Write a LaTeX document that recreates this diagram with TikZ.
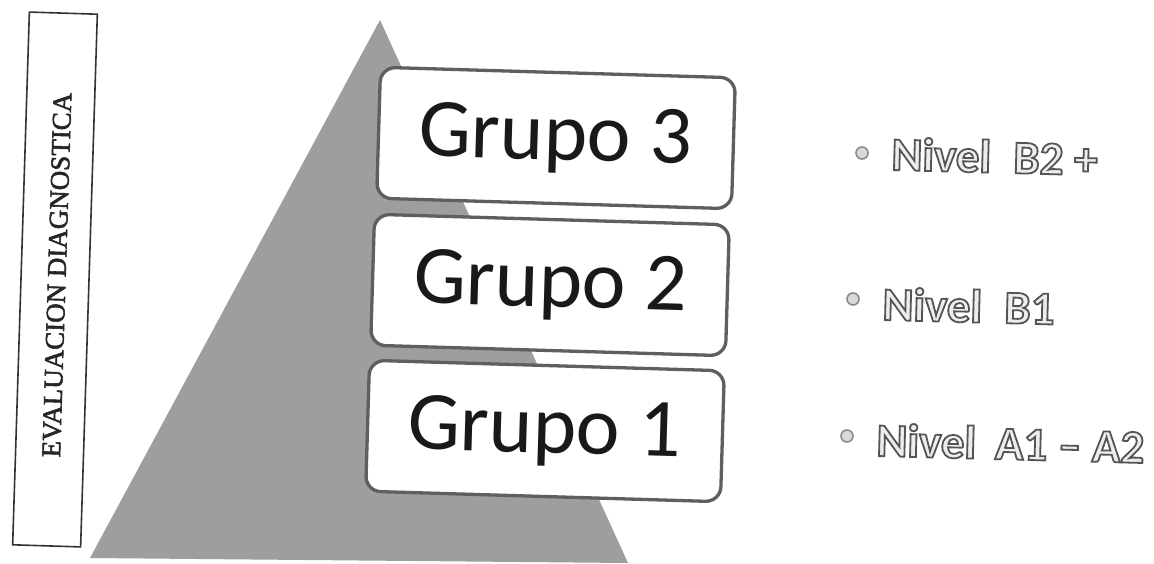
\documentclass[tikz,border=0pt]{standalone}
\usepackage{fontspec}
\setmainfont{Carlito}
\newfontfamily\serifx{Liberation Serif}
\newfontfamily\calib{Carlito}
\definecolor{pyr}{RGB}{158,158,158}
\definecolor{bord}{RGB}{95,95,95}
\definecolor{inkc}{RGB}{25,25,25}
\newcommand{\outl}[1]{\special{pdf:literal direct 2 Tr 1.8 w 0.33 G}#1\special{pdf:literal direct 0 Tr}}
\newcommand{\thicken}[1]{\special{pdf:literal direct 2 Tr 0.55 w 0.15 G}#1\special{pdf:literal direct 0 Tr}}
\tikzset{
  gbox/.style={draw=bord, line width=3.3pt, fill=white, rounded corners=15pt,
    minimum width=355pt, minimum height=131pt, inner sep=0pt, rotate=-1.7},
  gtext/.style={font=\calib\fontsize{83}{83}\selectfont, text=inkc, rotate=-1.7,
    anchor=base, inner sep=0pt},
  nivel/.style={font=\calib\bfseries\fontsize{47}{47}\selectfont, text=gray!14,
    rotate=-1.5, anchor=base west, inner sep=0pt},
  bul/.style={circle, draw=gray!90, fill=gray!30, line width=1.6pt,
    minimum size=12pt, inner sep=0pt},
  evalbox/.style={draw=black!80, line width=1.6pt, minimum width=68pt,
    minimum height=533pt, inner sep=0pt, rotate=-1.8},
  evaltext/.style={rotate=88.2, font=\serifx\fontsize{27}{27}\selectfont,
    text=black!85, inner sep=0pt}
}
\begin{document}
\begin{tikzpicture}[x=1pt,y=-1pt]
\useasboundingbox (0,0) rectangle (1154,564);
\fill[white] (0,0) rectangle (1154,564);
% pyramid
\coordinate (apex) at (380,20);
\coordinate (bl) at (90,558);
\coordinate (br) at (628,563);
\fill[pyr] (apex) -- (bl) -- (br) -- cycle;
% left label box
\node[evalbox] (eval) at (55,279.5) {};
\node[evaltext] (evallabel) at (57,275) {\thicken{EVALUACION DIAGNOSTICA}};
% group boxes
\node[gbox] (b3) at (556,138) {};
\node[gbox] (b2) at (550,285) {};
\node[gbox] (b1) at (545,431) {};
\node[gtext] (t3) at (555,160) {Grupo 3};
\node[gtext] (t2) at (550,307) {Grupo 2};
\node[gtext] (t1) at (544,453) {Grupo 1};
% levels
\node[bul] (k3) at (862,153) {};
\node[bul] (k2) at (853,299) {};
\node[bul] (k1) at (847,436) {};
\node[nivel] (n3) at (891,170) {\outl{Nivel\hspace{0.25em} B2 +}};
\node[nivel] (n2) at (882,320) {\outl{Nivel\hspace{0.25em} B1}};
\node[nivel] (n1) at (876,456) {\outl{Nivel\hspace{0.18em} A1 \textendash{} A2}};
\end{tikzpicture}
\end{document}
